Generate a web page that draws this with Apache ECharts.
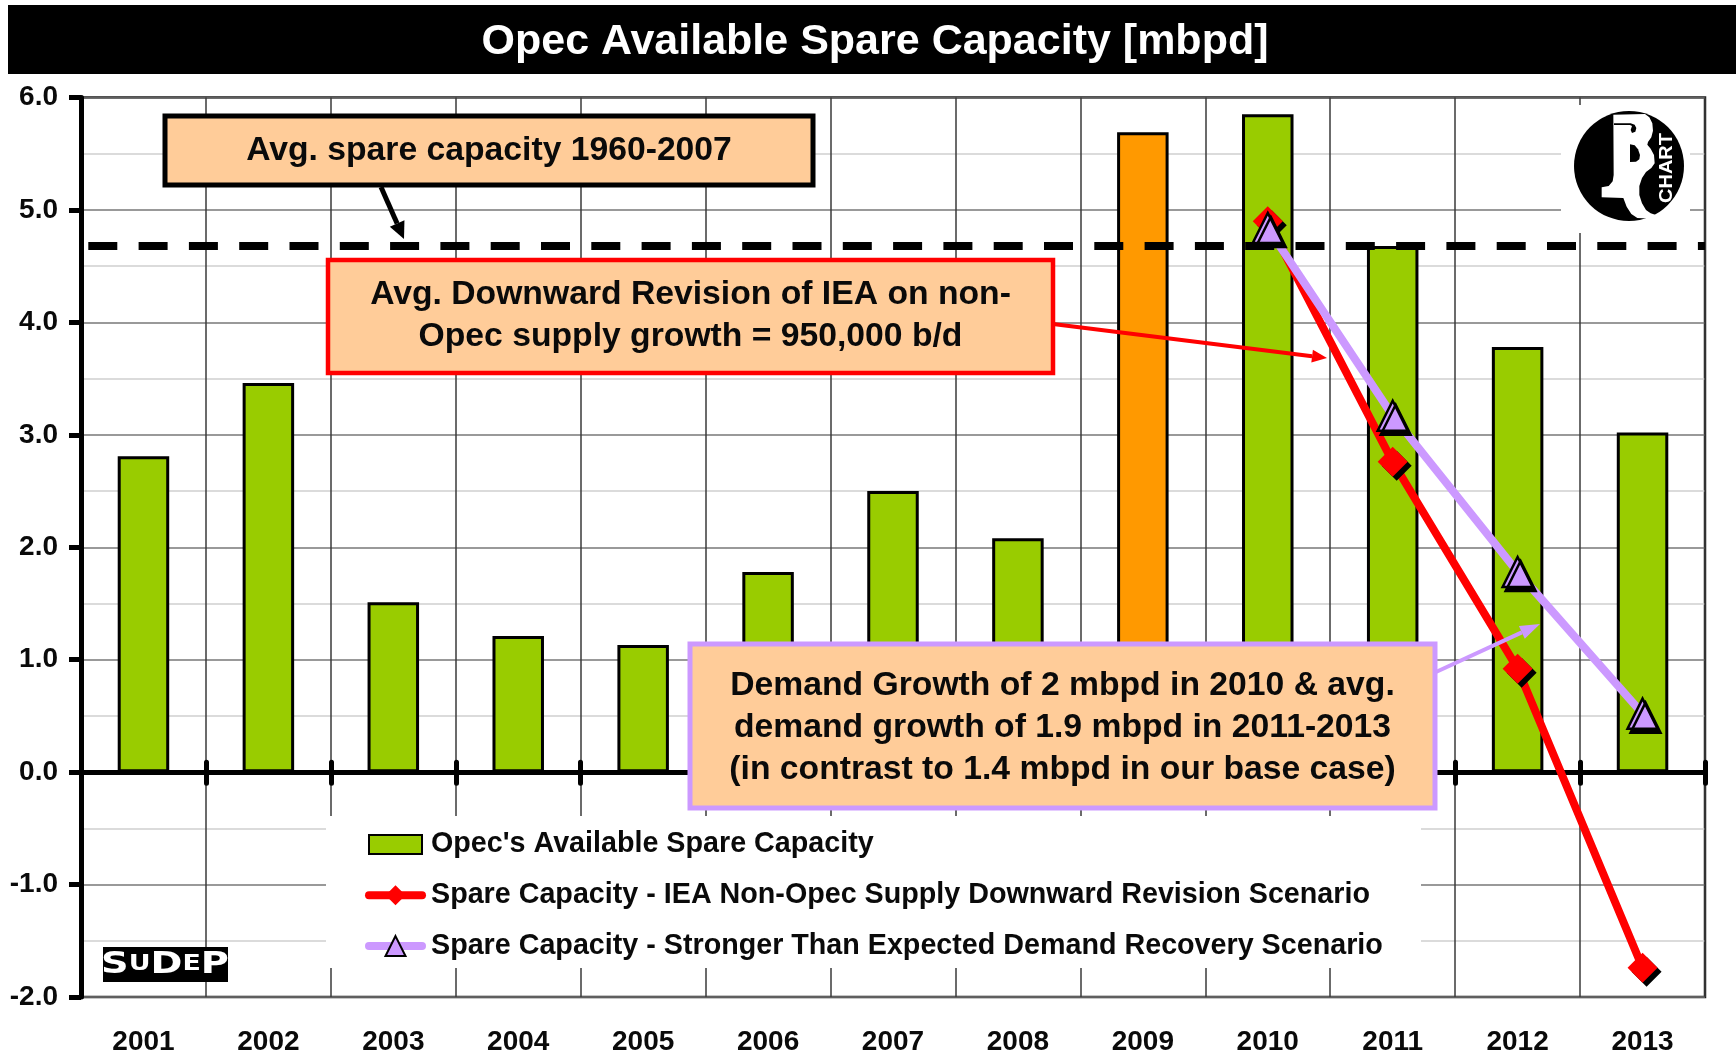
<!DOCTYPE html>
<html><head><meta charset="utf-8">
<style>html,body{margin:0;padding:0;background:#fff}#c{width:1736px;height:1056px}</style>
<script src="https://cdn.jsdelivr.net/npm/echarts@6/dist/echarts.min.js"></script>
</head><body><div id="c"></div>
<script>
const titleText = 'Opec Available Spare Capacity [mbpd]';
const years = ['2001','2002','2003','2004','2005','2006','2007','2008','2009','2010','2011','2012','2013'];
const spareCapacity = [2.81,3.46,1.51,1.21,1.13,1.78,2.50,2.08,5.69,5.85,4.68,3.78,3.02];
const ieaScenario = [null,null,null,null,null,null,null,null,null,4.90,2.76,0.92,-1.74];
const demandScenario = [null,null,null,null,null,null,null,null,null,4.84,3.17,1.78,0.52];
const avgSpare = 4.68;
const highlightYear = '2009';
const seriesNames = ["Opec's Available Spare Capacity",
  'Spare Capacity - IEA Non-Opec Supply Downward Revision Scenario',
  'Spare Capacity - Stronger Than Expected Demand Recovery Scenario'];
const note1 = 'Avg. spare capacity 1960-2007';
const note2 = 'Avg. Downward Revision of IEA on non-\nOpec supply growth = 950,000 b/d';
const note3 = 'Demand Growth of 2 mbpd in 2010 & avg.\ndemand growth of 1.9 mbpd in 2011-2013\n(in contrast to 1.4 mbpd in our base case)';

const FONT = '"Liberation Sans", Arial, sans-serif';
const GREEN='#99CC00', ORANGE='#FF9900', RED='#FF0000', LILAC='#CC99FF', PEACH='#FFCC99';

function box(x,y,w,h,color,lw,text,fs,lh,dy){
  return [
    {type:'rect',z:60,shape:{x:x,y:y,width:w,height:h},style:{fill:PEACH,stroke:color,lineWidth:lw}},
    {type:'text',z:61,x:x+w/2,y:y+h/2+(dy||0),style:{text:text,fill:'#0a0a0a',font:'bold '+fs+'px '+FONT,align:'center',verticalAlign:'middle',lineHeight:lh}}
  ];
}
function arrow(x0,y0,x1,y1,color,lw,hl,hw){
  const a=Math.atan2(y1-y0,x1-x0),c=Math.cos(a),s=Math.sin(a);
  const bx=x1-hl*c,by=y1-hl*s;
  return [
    {type:'line',z:59,shape:{x1:x0,y1:y0,x2:bx,y2:by},style:{stroke:color,lineWidth:lw}},
    {type:'polygon',z:59,shape:{points:[[x1,y1],[bx-hw*s,by+hw*c],[bx+hw*s,by-hw*c]]},style:{fill:color}}
  ];
}
const jbWhite=[[160,44],[255,42],[268,52],[277,70],[279,92],[274,112],[264,126],[262,134],[272,146],[282,165],[284,190],[274,204],[258,216],[246,234],[238,258],[238,285],[246,310],[258,330],[272,340],[288,345],[280,356],[232,354],[214,342],[200,320],[190,294],[125,292],[125,262],[146,258],[158,244],[161,225]];
const jbBlack1=[[162,70],[212,70],[224,74],[229,84],[226,95],[216,99],[212,90],[216,78],[210,75],[162,75]];
const jbBlack2=[[210,133],[224,136],[234,148],[240,165],[238,178],[228,185],[210,186]];
const layer={x:1560,y:100,scaleX:1/3,scaleY:1/3};
const option = {
  animation:false,
  backgroundColor:'#fff',
  title:{text:titleText,left:870,top:16,textAlign:'center',textStyle:{color:'#fff',fontFamily:FONT,fontWeight:'bold',fontSize:43}},
  grid:{left:81,right:31,top:97.5,bottom:59,show:true,borderColor:'#1a1a1a',borderWidth:2.5,backgroundColor:'transparent'},
  legend:{
    orient:'vertical',left:360,top:825,itemWidth:53,itemHeight:25,itemGap:21.8,z:55,
    itemStyle:{shadowColor:'transparent'},lineStyle:{width:8,cap:'round'},
    textStyle:{fontFamily:FONT,fontWeight:'bold',fontSize:28.7,color:'#0a0a0a',padding:[0,0,0,4]},
    data:[{name:seriesNames[0],icon:'path://M0,0M0,3H53V22H0ZM53,25'},{name:seriesNames[1]},{name:seriesNames[2]}]
  },
  xAxis:[
    {type:'category',data:years,position:'bottom',axisLine:{onZero:false,show:false},axisTick:{show:false},
     axisLabel:{fontFamily:FONT,fontWeight:'bold',fontSize:28,color:'#0a0a0a',margin:31},
     splitLine:{show:true,lineStyle:{color:'#3a3a3a',width:1.5}}},
    {type:'category',data:years,position:'bottom',axisLine:{onZero:true,onZeroAxisIndex:0,lineStyle:{color:'#000',width:5}},
     axisTick:{show:true,inside:true,length:10,lineStyle:{color:'#000',width:5,cap:'round'}},axisLabel:{show:false}},
    {type:'category',data:years,position:'bottom',axisLine:{onZero:true,onZeroAxisIndex:0,lineStyle:{color:'#000',width:5}},
     axisTick:{show:true,inside:false,length:11,lineStyle:{color:'#000',width:5,cap:'round'}},axisLabel:{show:false}}
  ],
  yAxis:{type:'value',min:-2,max:6,interval:1,
    axisLine:{show:true,onZero:false,lineStyle:{color:'#000',width:5}},
    axisTick:{show:true,length:12,lineStyle:{color:'#000',width:5}},
    axisLabel:{fontFamily:FONT,fontWeight:'bold',fontSize:28,color:'#0a0a0a',margin:23,padding:[4,0,0,0],formatter:function(v){return v.toFixed(1);}},
    splitLine:{show:true,lineStyle:{color:'#777',width:1.5}},
    minorTick:{show:false,splitNumber:2},
    minorSplitLine:{show:true,lineStyle:{color:'#cfcfcf',width:1.5}}},
  series:[
    {name:seriesNames[0],type:'bar',barWidth:51.5,
     data:spareCapacity.map(function(v,i){return years[i]===highlightYear?{value:v,itemStyle:{color:ORANGE}}:v;}),
     itemStyle:{color:GREEN,borderColor:'#000',borderWidth:3},
     markLine:{silent:true,symbol:'none',label:{show:false},z:5,
       lineStyle:{color:'#000',type:[29,21.3],width:8,dashOffset:43},data:[{yAxis:avgSpare}]}},
    {name:seriesNames[1],type:'line',data:ieaScenario,connectNulls:false,symbol:'diamond',symbolSize:30,z:6,
     lineStyle:{color:RED,width:8,cap:'round'},
     itemStyle:{color:RED,shadowColor:'#000',shadowBlur:0,shadowOffsetX:4,shadowOffsetY:4}},
    {name:seriesNames[2],type:'line',data:demandScenario,connectNulls:false,symbol:'triangle',symbolSize:[30,30],z:7,
     lineStyle:{color:LILAC,width:8,cap:'round'},
     itemStyle:{color:LILAC,borderColor:'#000',borderWidth:2.5,shadowColor:'#000',shadowBlur:0,shadowOffsetX:3,shadowOffsetY:4}}
  ],
  graphic:[
    {type:'rect',z:0,shape:{x:8,y:5,width:1728,height:69},style:{fill:'#000'}},
    {type:'rect',z:50,shape:{x:326,y:816,width:1095,height:152},style:{fill:'#fff'}},
    {type:'rect',z:50,shape:{x:1561,y:105,width:129,height:128},style:{fill:'#fff'}},
    {type:'circle',z:51,shape:{cx:1629,cy:166,r:55},style:{fill:'#000'}},
    Object.assign({type:'polygon',z:52,shape:{points:jbWhite},style:{fill:'#fff'}},layer),
    Object.assign({type:'polygon',z:53,shape:{points:jbBlack1},style:{fill:'#000'}},layer),
    Object.assign({type:'polygon',z:53,shape:{points:jbBlack2},style:{fill:'#000'}},layer),
    {type:'text',z:53,x:1667,y:168,rotation:Math.PI/2,scaleX:1.05,style:{text:'CHART',fill:'#fff',font:'bold 19px "Liberation Sans", sans-serif',align:'center',verticalAlign:'middle'}},
    {type:'rect',z:50,shape:{x:103,y:947,width:125,height:35},style:{fill:'#000'}},
    {type:'text',z:52,x:165,y:965,scaleX:1.28,style:{
      rich:{b:{font:'bold 30px "DejaVu Sans", sans-serif',fill:'#fff'},s:{font:'bold 21px "DejaVu Sans", sans-serif',fill:'#fff'}},
      text:'{b|S}{s|U}{b|D}{s|E}{b|P}',align:'center',verticalAlign:'middle'}}
  ].concat(
    box(165,116,648,69,'#000',5,note1,33.7,40),
    box(328,260,725,113,RED,4.5,note2,33.7,42,-1),
    box(690,644,745,164,LILAC,5,note3,33.7,42,1.5),
    arrow(381,187,404,239,'#000',5,17,8),
    arrow(1053,324,1327,358,RED,4,15,6.5),
    arrow(1436,672,1540,624,LILAC,4,20,7)
  )
};
echarts.init(document.getElementById('c')).setOption(option);
</script></body></html>
